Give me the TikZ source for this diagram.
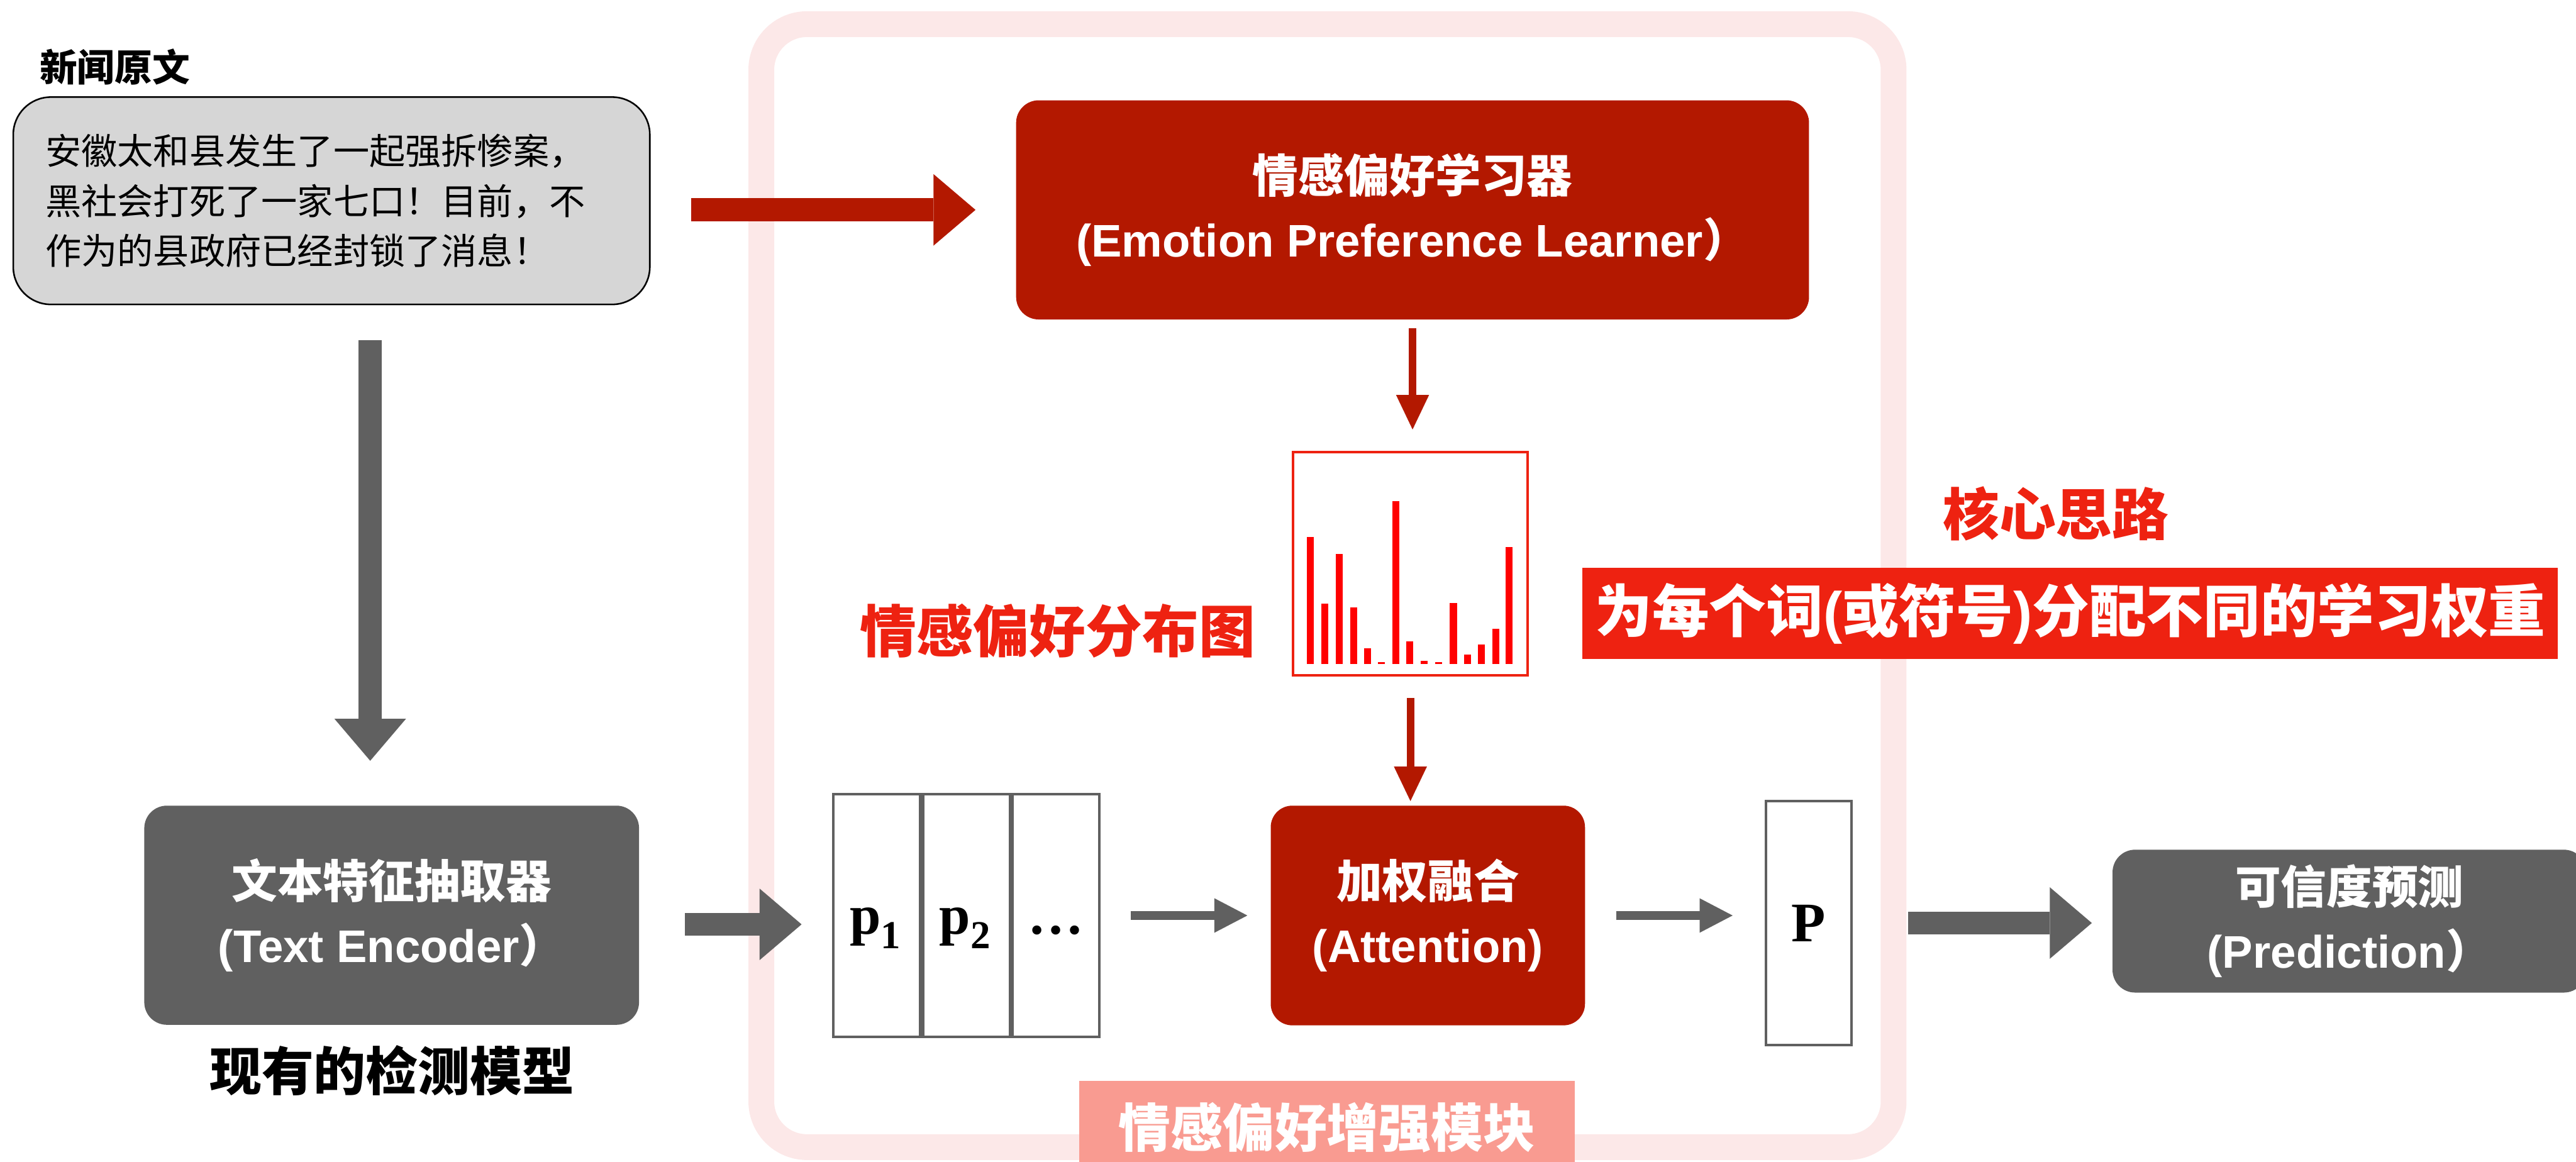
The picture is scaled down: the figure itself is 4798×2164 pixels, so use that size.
\documentclass[tikz,border=0pt]{standalone}
\usepackage{fontspec}
\setmainfont{Noto Sans CJK SC}
\newfontfamily\lat{Liberation Sans}
\newfontfamily\serf{Liberation Serif}
\usetikzlibrary{arrows.meta,calc}

\definecolor{boxred}{HTML}{B31800}
\definecolor{hired}{HTML}{EE2211}
\definecolor{barred}{HTML}{FF0000}
\definecolor{encgray}{HTML}{606060}
\definecolor{newsgray}{HTML}{D6D6D6}
\definecolor{framepink}{HTML}{FCE8E8}
\definecolor{tagpink}{HTML}{F99B91}

\tikzset{
  boxtext/.style={font={\bfseries\fontsize{24.2pt}{34.1pt}\selectfont}, text=white, align=center, inner sep=0pt},
  redbox/.style={boxtext, fill=boxred, rounded corners=0.42cm},
  graybox/.style={boxtext, fill=encgray, rounded corners=0.42cm},
  pbox/.style={draw=encgray, line width=1.42pt, fill=white, minimum width=1.617cm, minimum height=4.52cm, inner sep=0pt},
  plabel/.style={anchor=base, font={\serf\bfseries\fontsize{29.6pt}{29.6pt}\selectfont}, inner sep=0pt},
  redtitle/.style={text=hired, font={\bfseries\fontsize{29.9pt}{29.9pt}\selectfont}, inner sep=0pt},
  biggray/.style={encgray, line width=12.2pt, -{Triangle[length=22.2pt,width=37.8pt,line width=0.01pt]}},
  bigred/.style={boxred, line width=12.2pt, -{Triangle[length=22.2pt,width=37.8pt,line width=0.01pt]}},
  midgray/.style={encgray, line width=4.55pt, -{Triangle[length=17.4pt,width=18.2pt,line width=0.01pt]}},
  thinred/.style={boxred, line width=4pt, -{Triangle[length=18.2pt,width=17.4pt,line width=0.01pt]}},
}

\begin{document}
\begin{tikzpicture}[x=0.01cm, y=-0.01cm]
\useasboundingbox (0,0) rectangle (4798,2164);

% module frame
\draw[framepink, line width=13.66pt, rounded corners=0.85cm] (1418,45) rectangle (3527,2137);

% input news
\node[font={\bfseries\fontsize{19.9pt}{19.9pt}\selectfont}, inner sep=0pt] (newslabel) at (214,125) {新闻原文};
\node[fill=newsgray, draw=black, line width=0.85pt, rounded corners=0.7cm,
      minimum width=11.85cm, minimum height=3.86cm, text width=10.65cm, inner xsep=0.6cm,
      align=left, font={\fontsize{19.06pt}{26.46pt}\selectfont}] (news) at (617.5,374)
  {安徽太和县发生了一起强拆惨案，\\黑社会打死了一家七口！目前，不\\作为的县政府已经封锁了消息！};

% baseline detector
\node[graybox, minimum width=9.21cm, minimum height=4.08cm] (enc) at (729.5,1705)
  {文本特征抽取器\\{\lat (Text Encoder}）};
\node[font={\bfseries\fontsize{27.6pt}{27.6pt}\selectfont}, inner sep=0pt] (model) at (730,1994) {现有的检测模型};

% emotion preference learner
\node[redbox, minimum width=14.76cm, minimum height=4.08cm] (learner) at (2631,391)
  {情感偏好学习器\\{\lat (Emotion Preference Learner}）};

% distribution chart
\node[draw=hired, line width=1.4pt, minimum width=4.37cm, minimum height=4.15cm, inner sep=0pt] (chart) at (2627,1050) {};
\foreach \bx/\bt in {2441/1000, 2468/1125, 2494/1032, 2521/1131, 2547/1208, 2573/1234,
                     2600/934, 2626/1195, 2653/1231, 2679/1234, 2707/1123, 2733/1219,
                     2759/1201, 2786/1171, 2811/1019}
  \fill[barred] (\bx-6.5,1237) rectangle (\bx+6.5,\bt);
\node[redtitle] (distlabel) at (1970,1175) {情感偏好分布图};

% key idea
\node[redtitle] (ideatitle) at (3829,957) {核心思路};
\node[fill=hired, minimum width=18.16cm, minimum height=1.70cm, inner sep=0pt, text=white,
      font={\bfseries\fontsize{30.2pt}{30.2pt}\selectfont}] (idea) at (3856,1143)
  {为每个词{\lat (}或符号{\lat )}分配不同的学习权重};

% token features
\node[pbox] (p1) at (1633.3,1705.5) {};
\node[pbox] (p2) at (1800,1705.5) {};
\node[pbox] (p3) at (1966.7,1705.5) {};
\node[plabel] (p1t) at (1630,1740) {p\raisebox{-0.26em}{\fontsize{21pt}{21pt}\selectfont 1}};
\node[plabel] (p2t) at (1797,1740) {p\raisebox{-0.26em}{\fontsize{21pt}{21pt}\selectfont 2}};
\node[plabel] (p3t) at (1967,1740) {…};

% attention fusion
\node[redbox, minimum width=5.85cm, minimum height=4.09cm, rounded corners=0.4cm] (attn) at (2659.5,1705.5)
  {加权融合\\{\lat (Attention)}};

% fused vector
\node[pbox, minimum width=1.59cm, minimum height=4.54cm, font={\serf\bfseries\fontsize{29.6pt}{29.6pt}\selectfont}] (pv) at (3369,1719.5) {P};

% prediction
\node[graybox, minimum width=8.82cm, minimum height=2.66cm] (pred) at (4376,1716)
  {可信度预测\\{\lat (Prediction}）};

% module tag
\node[fill=tagpink, minimum width=9.23cm, minimum height=1.72cm, inner sep=0pt, text=white,
      font={\bfseries\fontsize{27.6pt}{27.6pt}\selectfont}] (tag) at (2471.5,2100) {情感偏好增强模块};

% connectors
\draw[bigred, shorten <=0.75cm, shorten >=0.75cm] (news.east |- learner.west) -- (learner.west);
\coordinate (dtop) at ([xshift=0.72cm]news.south);
\draw[biggray, shorten <=0.65cm, shorten >=0.83cm] (dtop) -- (dtop |- enc.north);
\draw[biggray, shorten <=0.85cm, shorten >=0.57cm] ([yshift=-0.17cm]enc.east) -- ([yshift=-0.17cm]enc.east -| p1.west);
\draw[midgray, shorten <=0.56cm, shorten >=0.43cm] (p3.east) -- (attn.west);
\draw[midgray, shorten <=0.57cm, shorten >=0.6cm] (attn.east) -- (attn.east -| pv.west);
\draw[biggray, shorten <=1.03cm, shorten >=0.38cm] (pv.east) -- (pv.east -| pred.west);
\draw[thinred, shorten <=0.16cm, shorten >=0.4cm] (learner.south) -- (learner.south |- chart.north);
\draw[thinred, shorten <=0.4cm, shorten >=0.08cm] (chart.south) -- (chart.south |- attn.north);
\end{tikzpicture}
\end{document}
